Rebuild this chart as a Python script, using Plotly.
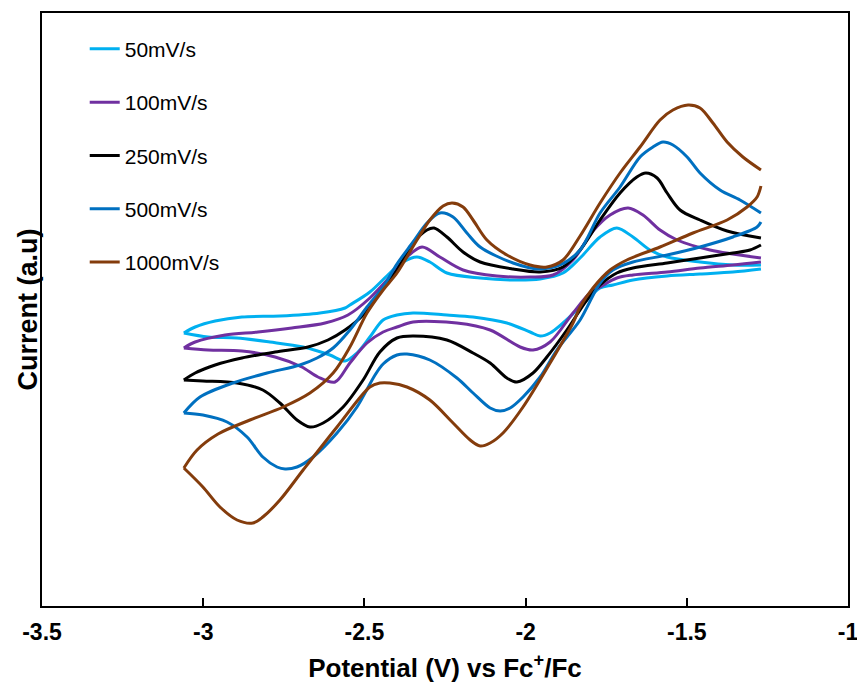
import plotly.graph_objects as go

# Potential (V vs Fc+/Fc) and current (a.u.); each CV: forward branch, gap (open at the switching end), reverse branch
v_50 = [-3.06, -3.025, -2.963, -2.88, -2.762, -2.638, -2.56, -2.545, -2.483, -2.421, -2.38, -2.337, -2.297, -2.244,
        -2.141, -2.039, -1.955, -1.884, -1.831, -1.769, -1.717, -1.667, -1.614, -1.561, -1.459, -1.357, -1.27,
        None,
        -1.27, -1.357, -1.459, -1.561, -1.667, -1.729, -1.769, -1.831, -1.884, -1.924, -1.955, -1.986, -2.058,
        -2.163, -2.244, -2.349, -2.399, -2.442, -2.483, -2.523, -2.56, -2.607, -2.69, -2.793, -2.895, -2.985, -3.06]
i_50 = [-2.3, -1.7, -1.1, -0.7, -0.6, -0.3, 0.2, 0.5, 1.8, 3.7, 4.8, 5.3, 4.8, 3.7,
        3.2, 3.0, 3.1, 3.7, 5.2, 7.3, 8.2, 7.3, 6.0, 5.3, 4.8, 4.5, 4.5,
        None,
        4.1, 3.8, 3.6, 3.4, 3.0, 2.5, 2.2, 0.3, -1.3, -2.3, -2.6, -2.2, -1.3,
        -0.7, -0.5, -0.3, -0.5, -1.0, -2.7, -4.3, -5.1, -4.5, -3.7, -3.2, -2.8, -2.7, -2.3]

v_100 = [-3.06, -3.025, -2.932, -2.83, -2.725, -2.622, -2.551, -2.483, -2.421, -2.368, -2.321, -2.266, -2.194,
         -2.089, -1.986, -1.915, -1.853, -1.791, -1.738, -1.682, -1.636, -1.583, -1.53, -1.428, -1.27,
         None,
         -1.27, -1.357, -1.459, -1.561, -1.667, -1.717, -1.769, -1.80, -1.853, -1.924, -1.977, -2.017, -2.11,
         -2.213, -2.349, -2.399, -2.442, -2.492, -2.545, -2.591, -2.644, -2.694, -2.777, -2.88, -2.985, -3.06]
i_100 = [-3.8, -3.2, -2.5, -2.2, -1.8, -1.3, -0.5, 1.2, 3.3, 5.3, 6.3, 5.3, 4.0,
         3.4, 3.3, 3.5, 5.0, 7.9, 9.5, 10.2, 9.5, 8.0, 7.0, 6.0, 5.2,
         None,
         4.8, 4.5, 4.2, 3.8, 3.5, 3.2, 2.3, 1.7, -0.3, -3.2, -4.0, -3.7, -2.0,
         -1.3, -1.2, -1.7, -2.2, -3.3, -5.3, -7.2, -6.7, -5.7, -4.7, -4.1, -4.0, -3.8]

v_250 = [-3.06, -3.025, -2.963, -2.88, -2.777, -2.675, -2.613, -2.56, -2.504, -2.452, -2.399, -2.349, -2.306,
         -2.284, -2.244, -2.194, -2.141, -2.039, -1.955, -1.884, -1.831, -1.769, -1.707, -1.655, -1.627, -1.592,
         -1.561, -1.521, -1.459, -1.375, -1.27,
         None,
         -1.27, -1.304, -1.357, -1.459, -1.561, -1.667, -1.717, -1.769, -1.81, -1.872, -1.934, -1.977, -2.027,
         -2.058, -2.11, -2.163, -2.244, -2.349, -2.399, -2.452, -2.504, -2.566, -2.628, -2.669, -2.709, -2.762,
         -2.815, -2.895, -3.001, -3.06]
i_250 = [-7.0, -6.3, -5.5, -4.8, -4.2, -3.7, -3.0, -2.0, -0.5, 1.8, 4.0, 6.7, 8.0,
         8.2, 7.3, 5.8, 4.8, 4.1, 3.8, 4.3, 6.0, 9.0, 11.7, 13.3, 13.7, 13.2,
         11.7, 10.0, 9.0, 7.9, 7.2,
         None,
         6.5, 6.0, 5.7, 5.2, 4.7, 4.2, 3.7, 2.5, 1.0, -2.0, -4.7, -6.3, -7.2,
         -6.8, -5.3, -4.3, -3.0, -2.6, -2.8, -4.2, -7.0, -9.7, -11.3, -11.7, -11.0, -9.3,
         -8.0, -7.3, -7.1, -7.0]

v_500 = [-3.06, -3.01, -2.908, -2.802, -2.70, -2.647, -2.597, -2.545, -2.492, -2.442, -2.399, -2.349, -2.306,
         -2.266, -2.225, -2.182, -2.141, -2.039, -1.955, -1.893, -1.831, -1.769, -1.707, -1.645, -1.605, -1.574,
         -1.543, -1.499, -1.459, -1.397, -1.335, -1.27,
         None,
         -1.27, -1.282, -1.357, -1.459, -1.561, -1.667, -1.729, -1.769, -1.831, -1.903, -1.955, -2.008, -2.048,
         -2.079, -2.11, -2.163, -2.213, -2.297, -2.368, -2.399, -2.442, -2.467, -2.523, -2.585, -2.659, -2.709,
         -2.746, -2.771, -2.815, -2.864, -2.926, -3.001, -3.06]
i_500 = [-10.3, -8.7, -7.3, -6.3, -5.5, -4.8, -3.8, -2.0, 0.3, 2.3, 4.6, 6.8, 8.7,
         9.7, 9.3, 7.7, 6.3, 4.7, 4.1, 4.5, 6.0, 9.7, 12.3, 15.3, 16.3, 16.8,
         16.5, 15.3, 13.7, 12.0, 11.0, 9.7,
         None,
         8.8, 8.3, 7.3, 6.3, 5.5, 4.8, 4.0, 2.7, -1.0, -4.0, -6.7, -8.7, -9.8,
         -10.1, -9.8, -8.3, -6.8, -5.0, -4.4, -4.5, -5.4, -6.5, -9.7, -12.3, -14.7, -15.7,
         -15.9, -15.7, -14.7, -12.7, -11.2, -10.5, -10.3]

v_1000 = [-3.06, -3.019, -2.954, -2.855, -2.752, -2.669, -2.597, -2.545, -2.492, -2.442, -2.399, -2.337, -2.297,
          -2.256, -2.228, -2.194, -2.163, -2.12, -2.058, -1.986, -1.934, -1.884, -1.831, -1.769, -1.707, -1.645,
          -1.583, -1.543, -1.496, -1.459, -1.419, -1.375, -1.326, -1.27,
          None,
          -1.27, -1.282, -1.313, -1.375, -1.481, -1.583, -1.686, -1.738, -1.791, -1.831, -1.853, -1.924, -2.008,
          -2.07, -2.11, -2.141, -2.172, -2.225, -2.297, -2.368, -2.421, -2.452, -2.483, -2.585, -2.69,
          -2.762, -2.815, -2.846, -2.895, -2.948, -3.001, -3.06]
i_1000 = [-15.8, -14.0, -12.4, -11.0, -9.7, -8.3, -6.3, -3.7, -0.3, 2.0, 3.7, 7.0, 9.0,
          10.4, 10.7, 10.3, 9.0, 7.0, 5.5, 4.5, 4.3, 5.0, 7.4, 10.7, 13.7, 16.3,
          19.0, 20.0, 20.5, 20.2, 18.7, 16.8, 15.3, 14.0,
          None,
          12.4, 11.3, 10.3, 9.0, 7.7, 6.3, 5.0, 4.0, 2.2, 0.3, -1.3, -5.3, -9.7,
          -12.3, -13.3, -13.6, -13.0, -11.3, -9.0, -7.7, -7.3, -7.3, -7.7, -11.7, -16.0,
          -19.0, -20.7, -21.3, -21.0, -19.7, -17.7, -15.8]

names = ["50mV/s", "100mV/s", "250mV/s", "500mV/s", "1000mV/s"]
colors = ["#00B0F0", "#7030A0", "#000000", "#0070C0", "#843C0C"]
series_v = [v_50, v_100, v_250, v_500, v_1000]
series_i = [i_50, i_100, i_250, i_500, i_1000]

tick_vals = [-3.5, -3.0, -2.5, -2.0, -1.5, -1.0]
tick_text = ["-3.5", "-3", "-2.5", "-2", "-1.5", "-1"]

FONT = "Arial, Liberation Sans, sans-serif"

fig = go.Figure()
for k in range(len(names)):
    fig.add_trace(go.Scatter(
        x=series_v[k], y=series_i[k], mode="lines", name=names[k],
        legendgroup="g%d" % k, connectgaps=False,
        line=dict(color=colors[k], width=3, shape="spline", smoothing=0.9),
    ))

fig.update_layout(
    width=857, height=685,
    margin=dict(l=42, r=9, t=13, b=79),
    paper_bgcolor="white", plot_bgcolor="white",
    font=dict(family=FONT, color="black"),
    showlegend=True,
    legend=dict(
        x=0.053, y=0.9735, xanchor="left", yanchor="top",
        font=dict(family=FONT, size=21, color="black"),
        bgcolor="rgba(0,0,0,0)", borderwidth=0,
        tracegroupgap=23, itemwidth=30,
    ),
    annotations=[dict(
        text="<b>Current (a.u)</b>", xref="paper", yref="paper",
        x=-0.0186, y=0.5, xanchor="center", yanchor="middle", textangle=-90,
        showarrow=False, font=dict(family=FONT, size=27, color="black"),
    )],
)
fig.update_xaxes(
    range=[-3.5, -1.0], tickvals=tick_vals, ticktext=tick_text, automargin=False,
    showline=True, linecolor="black", linewidth=2, mirror=True,
    ticks="inside", ticklen=8, tickwidth=2, tickcolor="black",
    showgrid=False, zeroline=False, ticklabelstandoff=4, ticklabeloverflow="allow",
    tickfont=dict(family=FONT, size=23, color="black", weight="bold"),
    title=dict(text="Potential (V) vs Fc<sup>+</sup>/Fc", standoff=15,
               font=dict(family=FONT, size=26, color="black", weight="bold")),
)
fig.update_yaxes(
    range=[-29.6, 29.7], showticklabels=False, ticks="", automargin=False,
    showline=True, linecolor="black", linewidth=2, mirror=True,
    showgrid=False, zeroline=False,
)

# remove the default page margin so the figure fills the window exactly
fig.write_html("out.html", config={"displayModeBar": False},
               post_script="document.body.style.margin='0';document.body.style.overflow='hidden';")
